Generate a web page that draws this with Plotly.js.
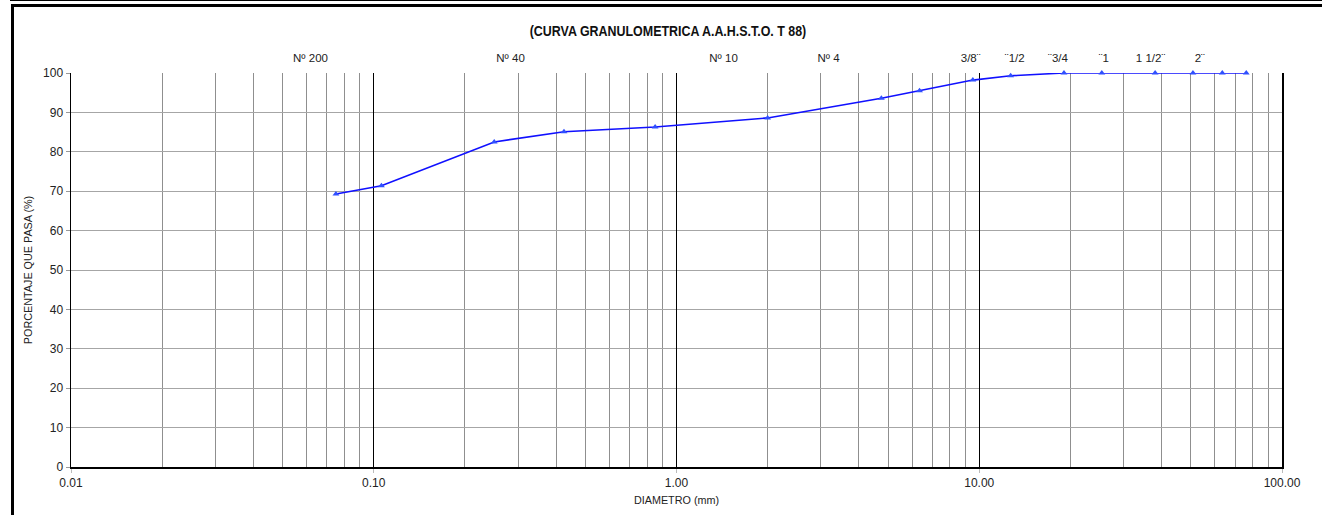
<!DOCTYPE html>
<html>
<head>
<meta charset="utf-8">
<script src="https://cdn.plot.ly/plotly-3.0.1.min.js"></script>
<style>
  html, body { margin: 0; padding: 0; background: #fff; }
  #wrap { position: relative; width: 1322px; height: 515px; overflow: hidden; }
  #chart { width: 1322px; height: 515px; }
  .frame { position: absolute; background: #000; pointer-events: none; }
  #chart text.gtitle { transform-box: fill-box; transform-origin: center; transform: scaleX(0.83); }
</style>
</head>
<body>
<div id="wrap">
  <div id="chart"></div>
  <div class="frame" style="left:10px; top:0px; width:1312px; height:1px;"></div>
  <div class="frame" style="left:11px; top:4px; width:1311px; height:3px;"></div>
  <div class="frame" style="left:11px; top:4px; width:3px; height:511px;"></div>
</div>
<script>
// Sieve openings (mm) and percentage passing
const diameters = [0.075, 0.106, 0.25, 0.425, 0.85, 2.0, 4.75, 6.35, 9.525, 12.7, 19.05, 25.4, 38.1, 50.8, 63.5, 76.2];
const passing   = [69.3, 71.4, 82.5, 85.1, 86.3, 88.6, 93.6, 95.5, 98.2, 99.3, 100, 100, 100, 100, 100, 100];

// Sieve designation labels shown above the plot (text and diameter in mm where they are centred)
const sieveLabels    = ["Nº 200", "Nº 40", "Nº 10", "Nº 4", "3/8¨", "¨1/2", "¨3/4", "¨1", "1 1/2¨", "2¨"];
const sieveLabelAtMm = [0.0618, 0.283, 1.43, 3.18, 9.37, 13.1, 18.2, 25.8, 36.8, 53.5];

// X axis ticks
const decadeVals   = [0.01, 0.1, 1, 10, 100];
const decadeLabels = ["0.01", "0.10", "1.00", "10.00", "100.00"];
const minorVals = [];
[0.01, 0.1, 1, 10].forEach(d => { for (let k = 2; k <= 9; k++) minorVals.push(+(d * k).toPrecision(3)); });

const FONT = "'Liberation Sans', Arial, sans-serif";

const traces = [
  {
    x: diameters, y: passing, type: 'scatter', mode: 'lines+markers',
    xaxis: 'x', yaxis: 'y', cliponaxis: false,
    line: { color: '#1010ff', width: 1.6 },
    marker: { symbol: 'triangle-up', size: 6, color: '#3050ff' },
    hoverinfo: 'x+y', showlegend: false
  },
  { x: [], y: [], xaxis: 'x2', yaxis: 'y', type: 'scatter', showlegend: false },
  { x: [], y: [], xaxis: 'x3', yaxis: 'y', type: 'scatter', showlegend: false }
];

const logRange = [Math.log10(decadeVals[0]), Math.log10(decadeVals[decadeVals.length - 1])];

const layout = {
  width: 1322, height: 515,
  margin: { l: 71, r: 40, t: 73, b: 48 },
  paper_bgcolor: '#fff', plot_bgcolor: '#fff',
  font: { family: FONT, size: 12, color: '#222' },
  title: {
    text: '(CURVA GRANULOMETRICA A.A.H.S.T.O. T 88)',
    font: { family: FONT, size: 15, color: '#111', weight: 'bold' },
    x: 668 / 1322, xanchor: 'center', xref: 'container',
    y: 1 - 31 / 515, yanchor: 'middle', yref: 'container'
  },
  xaxis: {
    type: 'log', range: logRange,
    tickvals: minorVals, showticklabels: false, ticks: '',
    showgrid: true, gridcolor: '#8f8f8f', gridwidth: 1,
    showline: false, zeroline: false, fixedrange: true
  },
  xaxis2: {
    type: 'log', range: logRange, overlaying: 'x', anchor: 'y', side: 'bottom',
    tickvals: decadeVals, ticktext: decadeLabels,
    ticks: 'outside', ticklen: 4, tickcolor: '#bbb', tickwidth: 1,
    tickfont: { family: FONT, size: 12, color: '#222' },
    showgrid: true, gridcolor: '#000', gridwidth: 1.4,
    showline: true, linecolor: '#000', linewidth: 1.5,
    zeroline: false, fixedrange: true,
    title: { text: 'DIAMETRO (mm)', font: { family: FONT, size: 10.8, color: '#222' }, standoff: 7 }
  },
  xaxis3: {
    type: 'log', range: logRange, overlaying: 'x', anchor: 'y', side: 'top',
    tickvals: sieveLabelAtMm, ticktext: sieveLabels,
    ticks: '', showgrid: false, showline: false, zeroline: false,
    tickfont: { family: FONT, size: 11.5, color: '#222' },
    ticklabelstandoff: 8, fixedrange: true
  },
  yaxis: {
    range: [0, 100], dtick: 10, tick0: 0,
    ticks: 'outside', ticklen: 4, tickcolor: '#999',
    tickfont: { family: FONT, size: 12, color: '#222' },
    showgrid: true, gridcolor: '#a6a6a6', gridwidth: 1,
    showline: true, mirror: true, linecolor: '#000', linewidth: 1.5,
    zeroline: false, fixedrange: true,
    title: { text: 'PORCENTAJE QUE PASA (%)', font: { family: FONT, size: 10.8, color: '#222' }, standoff: 8 }
  }
};

Plotly.newPlot('chart', traces, layout, { displayModeBar: false, staticPlot: true });
</script>
</body>
</html>
